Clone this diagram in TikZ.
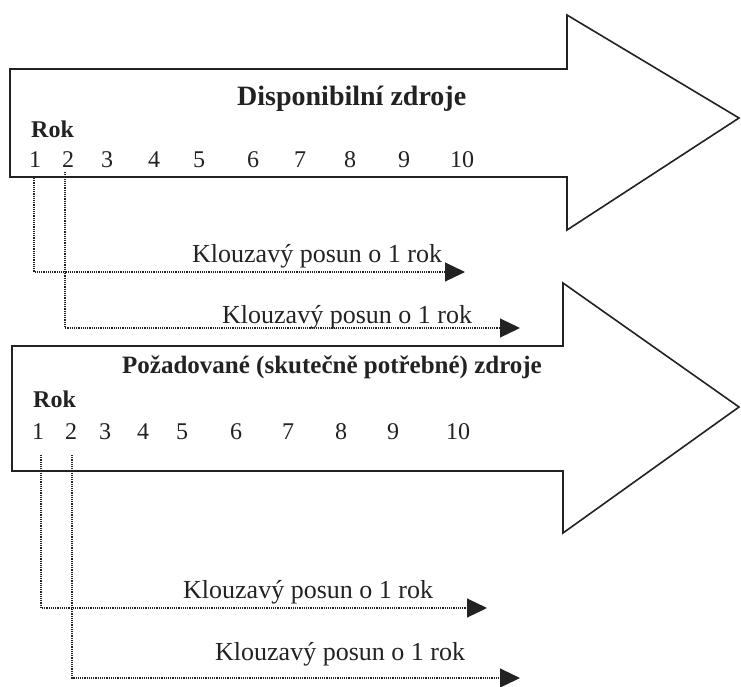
\documentclass[tikz,border=0pt]{standalone}
\usepackage{fontspec}
\setmainfont{Liberation Serif}
\usetikzlibrary{arrows.meta}
\definecolor{ink}{HTML}{222222}
\begin{document}
\begin{tikzpicture}[x=1pt,y=-1pt,
  bigarrow/.style={draw=ink, line width=1.6pt, line join=miter, fill=white},
  label/.style={inner sep=0pt, anchor=base west, text=ink},
  digit/.style={inner sep=0pt, anchor=base, font=\fontsize{24}{26}\selectfont, text=ink},
  shiftline/.style={draw=ink, line width=1.1pt, dash pattern=on 1.1pt off 1.1pt,
    -{Triangle[length=20pt,width=19pt]}},
]
\useasboundingbox (0,0) rectangle (741,686);

% upper block arrow: available resources
\draw[bigarrow] (10,69) -- (567,69) -- (567,15) -- (739,118) -- (567,230)
  -- (567,177) -- (10,177) -- cycle;
% lower block arrow: required resources
\draw[bigarrow] (12,346) -- (563,346) -- (563,283) -- (739,407) -- (563,533)
  -- (563,471) -- (12,471) -- cycle;

% headings
\node[label, font=\fontsize{28}{30}\selectfont\bfseries] (titleA) at (237,105) {Disponibilní zdroje};
\node[label, font=\fontsize{24}{26}\selectfont\bfseries] (rokA) at (31,137) {Rok};
\node[label, font=\fontsize{25}{27}\selectfont\bfseries] (titleB) at (122,373) {Požadované (skutečně potřebné) zdroje};
\node[label, font=\fontsize{24}{26}\selectfont\bfseries] (rokB) at (33,407) {Rok};

% year scales
\foreach \x [count=\i] in {35,68,107,154,199,253,300,350,404,462}
  \node[digit] (ta\i) at (\x,167) {\i};
\foreach \x [count=\i] in {38,71,105,143,182,236,288,341,393,458}
  \node[digit] (tb\i) at (\x,439) {\i};

% shift captions
\node[label, font=\fontsize{26}{28}\selectfont] (kA1) at (192,262) {Klouzavý posun o 1 rok};
\node[label, font=\fontsize{26}{28}\selectfont] (kA2) at (222,323) {Klouzavý posun o 1 rok};
\node[label, font=\fontsize{26}{28}\selectfont] (kB1) at (183,598) {Klouzavý posun o 1 rok};
\node[label, font=\fontsize{26}{28}\selectfont] (kB2) at (215,660) {Klouzavý posun o 1 rok};

% start and end points of the shift lines
\coordinate (sA1) at (34,178);
\coordinate (eA1) at (465,272);
\coordinate (sA2) at (65,172);
\coordinate (eA2) at (520,328);
\coordinate (sB1) at (41,455);
\coordinate (eB1) at (487,608);
\coordinate (sB2) at (72,455);
\coordinate (eB2) at (520,678);

\draw[shiftline] (sA1) |- (eA1);
\draw[shiftline] (sA2) |- (eA2);
\draw[shiftline] (sB1) |- (eB1);
\draw[shiftline] (sB2) |- (eB2);
\end{tikzpicture}
\end{document}
